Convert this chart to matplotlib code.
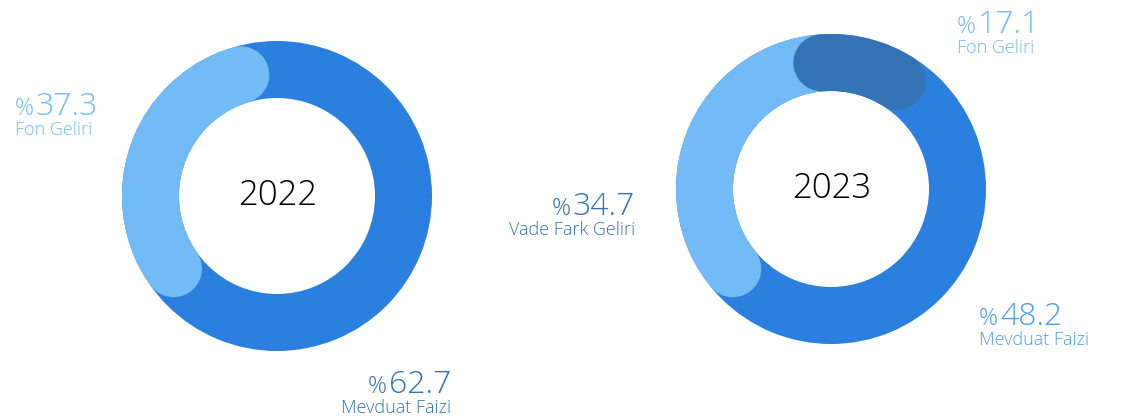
import numpy as np
import matplotlib
matplotlib.use("Agg")
import matplotlib.pyplot as plt
from matplotlib.patches import Wedge

# chart data
years = ["2022", "2023"]
labels_2022 = ["Fon Geliri", "Mevduat Faizi"]
values_2022 = [37.3, 62.7]
labels_2023 = ["Vade Fark Geliri", "Fon Geliri", "Mevduat Faizi"]
values_2023 = [34.7, 17.1, 48.2]

# colours
BASE = "#2A7FDF"
LIGHT = "#73BBF6"
STEEL = "#3474B4"
MID = "#4C9EF0"

plt.rcParams['font.family'] = ['Open Sans', 'DejaVu Sans']

W, H = 1122, 419
fig = plt.figure(figsize=(W / 100, H / 100), dpi=100)
ax = fig.add_axes([0, 0, 1, 1])
ax.set_xlim(0, W)
ax.set_ylim(H, 0)
ax.axis("off")

R_OUT, R_IN = 155, 98
R_MID = (R_OUT + R_IN) / 2
RING = R_OUT - R_IN
CAP = np.degrees((RING / 2) / R_MID)
LW = RING * 72 / 100


def arc(cx, cy, a0, a1, color):
    t = np.radians(np.linspace(a0, a1, 200))
    ax.plot(cx + R_MID * np.cos(t), cy - R_MID * np.sin(t), color=color,
            lw=LW, solid_capstyle="round", zorder=3)


def donut(cx, cy, year, values, colors, start):
    # last value is the base ring
    ax.add_patch(Wedge((cx, cy), R_OUT, 0, 360, width=RING, color=BASE,
                       lw=0, zorder=2))
    cum = start
    segs = values[:-1]
    for i, v in enumerate(segs):
        span = v / 100 * 360
        a0 = cum - CAP
        a1 = cum - span + CAP
        if i + 1 < len(segs):
            a1 = cum - span - CAP
        arc(cx, cy, a0, a1, colors[i])
        cum -= span
    ax.text(cx + 1, cy, year, ha="center", va="center", fontsize=25,
            fontweight="light", color="black", zorder=4)


donut(277, 196, years[0], values_2022, [LIGHT], 228)
donut(831, 189, years[1], values_2023, [LIGHT, STEEL], 232)

fig.canvas.draw()
renderer = fig.canvas.get_renderer()
GAP = 2


def pct_label(x, y, value, name, color, align):
    # number, percent sign in front, category name below
    num = ax.text(x, y, f"{value:.1f}", ha=align, va="baseline",
                  fontsize=23, fontweight="light", color=color)
    bb = num.get_window_extent(renderer)
    x0 = ax.transData.inverted().transform((bb.x0, bb.y0))[0]
    if align == "left":
        pct = ax.text(x, y, "%", ha="left", va="baseline", fontsize=17,
                      fontweight="light", color=color)
        w = pct.get_window_extent(renderer).width
        num.set_x(x + w + GAP)
    else:
        ax.text(x0 - GAP, y, "%", ha="right", va="baseline", fontsize=17,
                fontweight="light", color=color)
    ax.text(x, y + 20, name, ha=align, va="baseline", fontsize=13,
            fontweight="light", color=color)


pct_label(15, 115, values_2022[0], labels_2022[0], LIGHT, "left")
pct_label(451, 393, values_2022[1], labels_2022[1], STEEL, "right")
pct_label(635, 215, values_2023[0], labels_2023[0], STEEL, "right")
pct_label(957, 33, values_2023[1], labels_2023[1], LIGHT, "left")
pct_label(979, 325, values_2023[2], labels_2023[2], MID, "left")

fig.savefig("out.png", dpi=100)
